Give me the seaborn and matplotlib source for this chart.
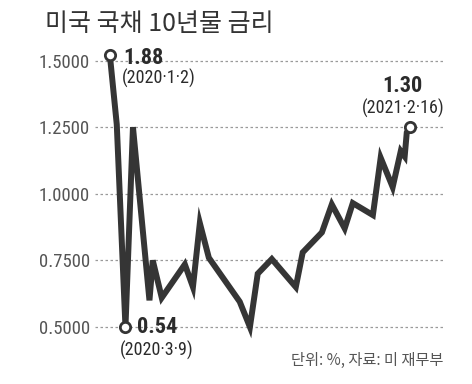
import matplotlib
matplotlib.use("Agg")
import matplotlib.pyplot as plt
import seaborn as sns
import pandas as pd
from matplotlib.ticker import FormatStrFormatter

# ---- data (x is a relative time position 0..100) ----
t_pos = [0, 2.3, 5.2, 7.7, 13.2, 14.3, 17.3, 25, 27.7, 30, 33, 43.3, 46.7, 49.3,
         54, 62, 64.3, 70.7, 74, 78.3, 81, 87.7, 90.3, 94.3, 97, 98.3, 99, 100]
rate = [1.52, 1.26, 0.50, 1.25, 0.60, 0.75, 0.61, 0.735, 0.65, 0.89, 0.76, 0.595,
        0.50, 0.70, 0.755, 0.65, 0.78, 0.855, 0.96, 0.87, 0.965, 0.92, 1.135,
        1.025, 1.16, 1.14, 1.23, 1.25]
y_ticks = [0.5, 0.75, 1.0, 1.25, 1.5]
mark_idx = [0, 2, 27]
mark_values = ["1.88", "0.54", "1.30"]
mark_dates = ["(2020·1·2)", "(2020·3·9)", "(2021·2·16)"]
title = "미국 국채 10년물 금리"
source = "단위: %, 자료: 미 재무부"

df = pd.DataFrame({"t": t_pos, "rate": rate})
marks = df.iloc[mark_idx].reset_index(drop=True)

sns.set_theme(style="white")
NARROW = ["Roboto Condensed", "DejaVu Sans"]
KR = ["Noto Sans CJK KR", "DejaVu Sans"]
plt.rcParams["font.family"] = NARROW

fig = plt.figure(figsize=(4.72, 3.84), dpi=100)
ax = fig.add_axes([0.201, 0.079, 0.7415, 0.8328])

dark = "#353535"
sns.lineplot(data=df, x="t", y="rate", ax=ax, color=dark, linewidth=4.3,
             solid_joinstyle="miter", solid_capstyle="butt", zorder=3)
sns.scatterplot(data=marks, x="t", y="rate", ax=ax, s=55, color="white",
                edgecolor=dark, linewidth=2.0, zorder=4)

ax.set_xlim(-5, 111.7)
ax.set_ylim(0.40, 1.60)
ax.set_yticks(y_ticks)
ax.yaxis.set_major_formatter(FormatStrFormatter("%.4f"))
ax.set_xticks([])
ax.set_xlabel("")
ax.set_ylabel("")
for s in ax.spines.values():
    s.set_visible(False)
ax.tick_params(axis="y", length=0, pad=3.5, labelsize=13.5, labelcolor="#555555")
ax.grid(axis="y", color="#9a9a9a", linestyle=(0, (2, 2)), linewidth=0.9)
ax.set_axisbelow(True)

# annotations
offs_val = [(9.4, -2), (8.6, 0), (-5, 29.5)]
offs_date = [(8.6, -17), (-4.3, -17), (-5, 13.7)]
ha_val = ["left", "left", "center"]
ha_date = ["left", "left", "center"]
for i in range(len(marks)):
    xy = (marks.loc[i, "t"], marks.loc[i, "rate"])
    ax.annotate(mark_values[i], xy=xy, xytext=offs_val[i], textcoords="offset points",
                ha=ha_val[i], va="center", fontsize=16, color="#2b2b2b",
                fontweight="semibold")
    ax.annotate(mark_dates[i], xy=xy, xytext=offs_date[i], textcoords="offset points",
                ha=ha_date[i], va="center", fontsize=13, color="#2b2b2b",
                fontweight="normal")

fig.text(0.095, 0.9375, title, ha="left", va="center", fontsize=18,
         color="#333333", family=KR, fontweight="medium")
fig.text(0.939, 0.06, source, ha="right", va="center", fontsize=11,
         color="#555555", family=KR)

fig.savefig("out.png", dpi=100)
